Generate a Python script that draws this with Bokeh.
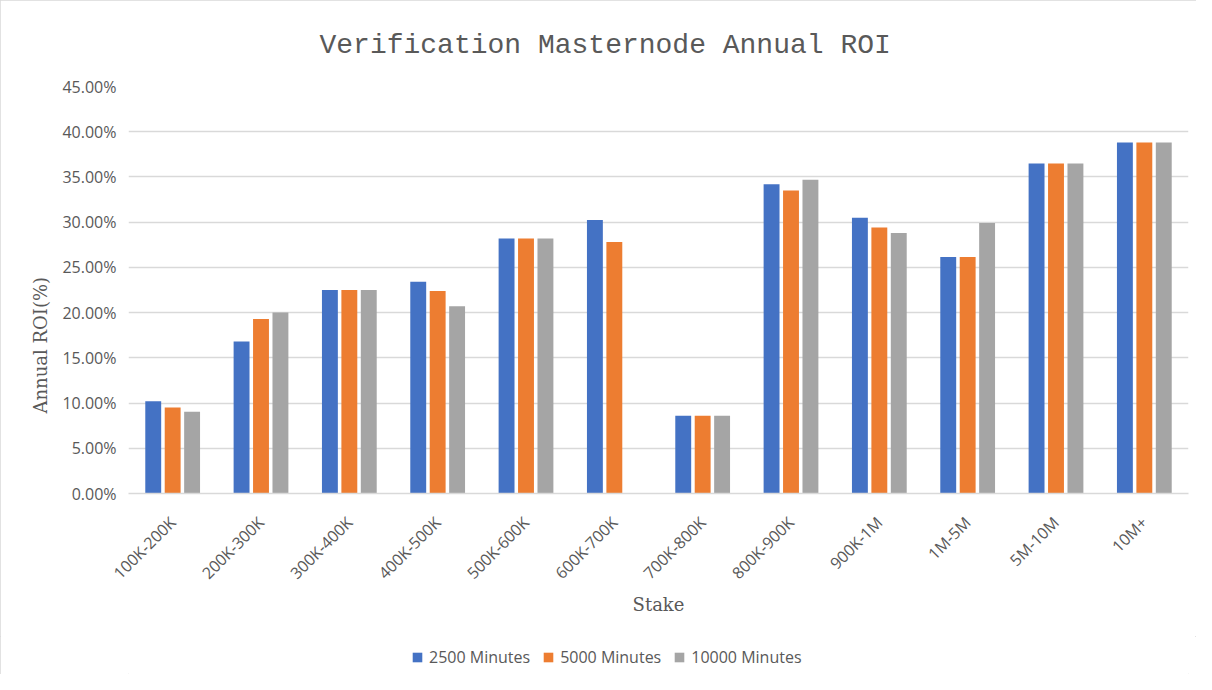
from bokeh.plotting import figure
from bokeh.layouts import column
from bokeh.models import ColumnDataSource, Legend, LegendItem, Title, PrintfTickFormatter, FixedTicker
from bokeh.transform import dodge
from bokeh.embed import file_html
from bokeh.resources import INLINE
from math import pi

categories = ["100K-200K", "200K-300K", "300K-400K", "400K-500K", "500K-600K", "600K-700K",
              "700K-800K", "800K-900K", "900K-1M", "1M-5M", "5M-10M", "10M+"]
m2500 = [10.2, 16.8, 22.5, 23.4, 28.2, 30.25, 8.6, 34.2, 30.5, 26.15, 36.5, 38.8]
m5000 = [9.5, 19.3, 22.5, 22.4, 28.2, 27.8, 8.6, 33.5, 29.4, 26.15, 36.5, 38.8]
m10000 = [9.05, 20.0, 22.5, 20.7, 28.2, float("nan"), 8.6, 34.7, 28.8, 29.9, 36.5, 38.8]
series_names = ["2500 Minutes", "5000 Minutes", "10000 Minutes"]
colors = ["#4472C4", "#ED7D31", "#A5A5A5"]
y_ticks = [0, 5, 10, 15, 20, 25, 30, 35, 40, 45]

source = ColumnDataSource(dict(cat=categories, a=m2500, b=m5000, c=m10000))

TXT = "#595959"
p = figure(x_range=categories, y_range=(0, 45), width=1196, height=636,
           output_backend="svg", toolbar_location=None,
           title="Verification Masternode Annual ROI")
p.min_border_left = 128
p.min_border_right = 8
p.min_border_top = 86
p.min_border_bottom = 143
p.outline_line_color = None
p.background_fill_color = "white"
p.border_fill_color = "white"

p.title.align = "left"
p.title.text_font = "Liberation Mono"
p.title.text_font_size = "28px"
p.title.text_font_style = "normal"
p.title.text_color = TXT
p.title.offset = 191
p.title.standoff = 52

renderers = []
for col, off, color in zip(["a", "b", "c"], [-0.22, 0.0, 0.22], colors):
    r = p.vbar(x=dodge("cat", off, range=p.x_range), top=col, width=0.18,
               source=source, fill_color=color, line_color=None)
    renderers.append(r)

p.yaxis.ticker = FixedTicker(ticks=y_ticks)
p.yaxis.formatter = PrintfTickFormatter(format="%.2f%%")
p.yaxis.axis_line_color = None
p.yaxis.major_tick_line_color = None
p.yaxis.major_tick_out = 0
p.yaxis.major_tick_in = 0
p.yaxis.minor_tick_line_color = None
p.yaxis.major_label_standoff = 12
p.yaxis.major_label_text_font = "Open Sans"
p.yaxis.major_label_text_font_size = "16px"
p.yaxis.major_label_text_color = TXT

p.xaxis.axis_line_color = "#d9d9d9"
p.xaxis.axis_line_width = 1.5
p.xaxis.major_tick_line_color = None
p.xaxis.major_tick_out = 0
p.xaxis.major_tick_in = 0
p.xaxis.minor_tick_line_color = None
p.xaxis.major_label_orientation = pi / 4
p.xaxis.major_label_standoff = 26
p.xaxis.major_label_text_font = "Open Sans"
p.xaxis.major_label_text_font_size = "16px"
p.xaxis.major_label_text_color = TXT
p.xaxis.axis_label = "Stake"
p.xaxis.axis_label_text_font = "DejaVu Serif"
p.xaxis.axis_label_text_font_size = "18px"
p.xaxis.axis_label_text_font_style = "normal"
p.xaxis.axis_label_text_color = TXT
p.xaxis.axis_label_standoff = 0

p.xgrid.grid_line_color = None
p.ygrid.grid_line_color = "#d9d9d9"
p.ygrid.grid_line_width = 1.5

ytitle = Title(text="Annual ROI(%)", align="left", offset=80, standoff=18,
               text_font="DejaVu Serif", text_font_size="18px", text_font_style="normal",
               text_color=TXT)
p.add_layout(ytitle, "left")

# legend strip under the chart
p2 = figure(width=1196, height=38, x_range=(0, 1), y_range=(0, 1),
            output_backend="svg", toolbar_location=None,
            x_axis_location=None, y_axis_location=None, min_border=0)
p2.grid.visible = False
p2.outline_line_color = None
p2.background_fill_color = "white"
p2.border_fill_color = "white"
keys = [p2.vbar(x=[0.5], top=[0], width=0, fill_color=c, line_color=None) for c in colors]
legend = Legend(items=[LegendItem(label=n, renderers=[r]) for n, r in zip(series_names, keys)],
                orientation="horizontal", location=(283, 6))
legend.border_line_color = None
legend.background_fill_alpha = 0
legend.label_text_font = "Open Sans"
legend.label_text_font_size = "16px"
legend.label_text_color = TXT
legend.glyph_width = 12
legend.glyph_height = 12
legend.label_standoff = 6
legend.spacing = 12
legend.padding = 0
legend.margin = 0
p2.add_layout(legend, "center")

layout = column(p, p2, spacing=0)
layout.styles = {"outline": "1px solid #d9d9d9", "outline-offset": "-1px"}

open("out.html", "w").write(file_html(layout, INLINE))
